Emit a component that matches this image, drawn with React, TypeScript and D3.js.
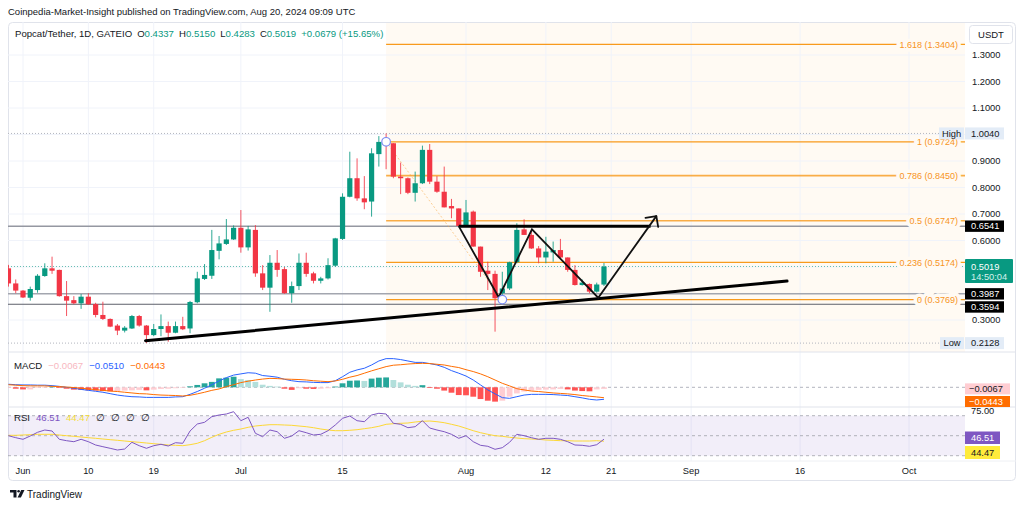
import * as d3 from "d3";

const FONT = "'Liberation Sans', Arial, sans-serif";
const GREEN = "#089981";
const RED = "#f23645";
const TEXT = "#131722";

// daily candles, 30 May – 20 Aug 2024
const firstDay = new Date(Date.UTC(2024, 4, 30));

const opens = [
  0.495, 0.438, 0.411, 0.384, 0.413, 0.466, 0.495, 0.489, 0.39, 0.375, 0.363, 0.388, 0.36, 0.319, 0.304,
  0.279, 0.26, 0.268, 0.315, 0.279, 0.243, 0.266, 0.277, 0.252, 0.277, 0.268, 0.367, 0.455, 0.467, 0.561,
  0.587, 0.604, 0.648, 0.574, 0.64, 0.476, 0.422, 0.516, 0.492, 0.401, 0.428, 0.516, 0.476, 0.448, 0.457,
  0.505, 0.606, 0.765, 0.835, 0.759, 0.747, 0.926, 0.972, 0.967, 0.841, 0.835, 0.78, 0.816, 0.942, 0.822,
  0.784, 0.73, 0.721, 0.655, 0.709, 0.577, 0.486, 0.474, 0.401, 0.419, 0.518, 0.642, 0.621, 0.57, 0.536,
  0.555, 0.564, 0.536, 0.489, 0.432, 0.436, 0.407, 0.4337,
];
const highs = [
  0.508, 0.453, 0.413, 0.426, 0.473, 0.514, 0.539, 0.49, 0.447, 0.39, 0.398, 0.401, 0.365, 0.369, 0.306,
  0.285, 0.277, 0.319, 0.319, 0.281, 0.285, 0.321, 0.294, 0.294, 0.312, 0.372, 0.482, 0.511, 0.64, 0.617,
  0.681, 0.657, 0.715, 0.655, 0.658, 0.507, 0.545, 0.564, 0.5, 0.445, 0.551, 0.554, 0.482, 0.463, 0.533,
  0.61, 0.778, 0.935, 0.91, 0.843, 0.948, 0.994, 1.004, 0.967, 0.894, 0.838, 0.86, 0.958, 0.964, 0.843,
  0.879, 0.757, 0.721, 0.753, 0.713, 0.577, 0.52, 0.486, 0.482, 0.52, 0.665, 0.68, 0.64, 0.579, 0.614,
  0.596, 0.606, 0.536, 0.507, 0.453, 0.438, 0.441, 0.515,
];
const lows = [
  0.426, 0.401, 0.383, 0.373, 0.403, 0.463, 0.474, 0.388, 0.315, 0.36, 0.342, 0.357, 0.31, 0.3, 0.273,
  0.243, 0.253, 0.266, 0.275, 0.2128, 0.239, 0.239, 0.218, 0.25, 0.262, 0.25, 0.363, 0.451, 0.455, 0.529,
  0.583, 0.602, 0.554, 0.562, 0.463, 0.413, 0.331, 0.463, 0.399, 0.365, 0.413, 0.463, 0.438, 0.438, 0.453,
  0.501, 0.602, 0.763, 0.75, 0.718, 0.69, 0.879, 0.869, 0.835, 0.775, 0.775, 0.747, 0.813, 0.813, 0.78,
  0.725, 0.684, 0.655, 0.652, 0.577, 0.463, 0.413, 0.256, 0.377, 0.413, 0.514, 0.621, 0.568, 0.514, 0.514,
  0.52, 0.533, 0.482, 0.43, 0.43, 0.401, 0.403, 0.4283,
];
const closes = [
  0.438, 0.411, 0.385, 0.417, 0.467, 0.495, 0.486, 0.39, 0.373, 0.363, 0.388, 0.359, 0.319, 0.304, 0.275,
  0.26, 0.271, 0.315, 0.279, 0.243, 0.266, 0.277, 0.252, 0.277, 0.265, 0.368, 0.457, 0.47, 0.564, 0.589,
  0.604, 0.648, 0.574, 0.642, 0.476, 0.422, 0.516, 0.489, 0.401, 0.428, 0.516, 0.474, 0.448, 0.457, 0.507,
  0.608, 0.765, 0.835, 0.759, 0.744, 0.929, 0.972, 0.964, 0.841, 0.835, 0.78, 0.816, 0.942, 0.822, 0.784,
  0.725, 0.721, 0.655, 0.706, 0.577, 0.482, 0.474, 0.382, 0.419, 0.518, 0.64, 0.621, 0.57, 0.536, 0.558,
  0.564, 0.536, 0.489, 0.432, 0.441, 0.407, 0.434, 0.5019,
];

// MACD (12, 26, 9)
const macdLine = [
  0.013, 0.011, 0.01, 0.01, 0.009, 0.009, 0.007, 0.004, 0, -0.004, -0.009, -0.013, -0.017, -0.021, -0.027,
  -0.033, -0.037, -0.04, -0.041, -0.043, -0.043, -0.043, -0.043, -0.041, -0.04, -0.03, -0.018, -0.004, 0.011,
  0.027, 0.041, 0.052, 0.057, 0.062, 0.06, 0.05, 0.047, 0.043, 0.034, 0.028, 0.024, 0.023, 0.021, 0.02,
  0.02, 0.028, 0.045, 0.064, 0.074, 0.081, 0.095, 0.112, 0.122, 0.122, 0.118, 0.112, 0.106,
  0.106, 0.101, 0.095, 0.085, 0.071, 0.06, 0.048, 0.031, 0.01, -0.011, -0.028, -0.044, -0.047, -0.04, -0.033,
  -0.03, -0.03, -0.03, -0.031, -0.033, -0.035, -0.04, -0.045, -0.051, -0.054, -0.051,
];
const signalLine = [
  0.011, 0.009, 0.007, 0.006, 0.006, 0.006, 0.004, 0.003, 0.001, -0.001, -0.004, -0.007, -0.01, -0.013, -0.016,
  -0.018, -0.021, -0.024, -0.027, -0.028, -0.031, -0.033, -0.034, -0.035, -0.037, -0.034, -0.028, -0.021, -0.013,
  -0.007, 0.003, 0.011, 0.02, 0.026, 0.031, 0.035, 0.038, 0.037, 0.035, 0.034, 0.033, 0.031, 0.028, 0.026,
  0.024, 0.027, 0.034, 0.043, 0.05, 0.06, 0.07, 0.079, 0.088, 0.094, 0.096, 0.099, 0.101,
  0.102, 0.101, 0.098, 0.095, 0.089, 0.084, 0.075, 0.067, 0.057, 0.045, 0.031, 0.017, 0.006, -0.006, -0.011,
  -0.016, -0.018, -0.021, -0.024, -0.026, -0.028, -0.031, -0.035, -0.038, -0.041, -0.0443,
];
const histogram = [
  -0.003, -0.006, -0.009, -0.009, -0.003, -0.001, 0.003, -0.003, -0.006, -0.01, -0.011, -0.013, -0.014, -0.016, -0.017,
  -0.017, -0.014, -0.013, -0.011, -0.013, -0.01, -0.007, -0.006, -0.004, -0.001, 0.004, 0.01, 0.017, 0.023,
  0.038, 0.041, 0.045, 0.035, 0.031, 0.023, 0.011, 0.006, 0.003, -0.006, -0.011, -0.004, -0.006, -0.007, -0.006,
  -0.004, 0.003, 0.017, 0.028, 0.029, 0.027, 0.037, 0.041, 0.042, 0.031, 0.021, 0.011, 0.006,
  0.009, -0.003, -0.006, -0.014, -0.023, -0.033, -0.034, -0.04, -0.05, -0.057, -0.061, -0.057, -0.04, -0.026, -0.018,
  -0.014, -0.011, -0.01, -0.009, -0.007, -0.009, -0.014, -0.016, -0.017, -0.009, -0.0067,
];

// RSI (14) and its moving average
const rsi = [
  50.0, 48.0, 46.4, 49.7, 53.4, 55.7, 54.7, 46.4, 45.0, 44.0, 46.4, 44.0, 40.7, 39.0, 37.4, 35.7, 36.7, 43.4,
  40.0, 37.4, 40.0, 41.4, 39.7, 43.0, 42.4, 54.7, 61.7, 63.4, 69.0,
  70.7, 71.7, 74.0, 65.0, 68.4, 52.4, 49.0, 55.7, 54.0, 47.4, 49.7, 55.0, 53.0, 50.7, 51.4, 55.0, 60.7, 67.4,
  69.7, 65.0, 64.0, 70.7, 72.4, 71.7, 62.4, 61.4, 58.0, 59.0,
  65.0, 57.7, 55.7, 54.0, 51.4, 47.4, 50.0, 44.0, 40.4, 39.4, 36.4, 38.0, 43.4, 51.4, 50.0, 48.0, 46.4, 47.4,
  47.4, 46.4, 44.0, 40.7, 40.4, 39.4, 41.0, 46.51,
];
const rsiMa = [
  50.4, 50.4, 50.7, 51.0, 51.4, 51.4, 51.4, 50.7, 50.0, 49.4, 48.7, 48.0, 47.4, 46.7, 46.0, 45.4, 44.7, 44.0,
  43.4, 42.7, 42.0, 41.4, 40.7, 40.4, 40.0, 41.0, 42.4, 45.0, 48.4,
  51.4, 53.7, 55.4, 56.7, 58.4, 59.7, 60.4, 61.0, 61.0, 60.7, 60.4, 59.7, 59.0, 58.0, 56.7, 55.7, 55.0, 55.0,
  55.4, 56.0, 57.0, 58.0, 59.4, 61.4, 62.0, 62.4, 62.7, 63.7,
  64.4, 64.7, 64.0, 63.0, 61.4, 59.7, 57.4, 55.0, 53.0, 51.4, 50.0, 49.4, 48.4, 47.7, 47.0, 46.7, 46.4, 45.7,
  45.4, 45.0, 45.0, 44.7, 44.7, 44.7, 45.0, 44.47,
];

const timeTicks = ["2024-06-01", "2024-06-10", "2024-06-19", "2024-07-01", "2024-07-15", "2024-08-01", "2024-08-12", "2024-08-21", "2024-09-01", "2024-09-16", "2024-10-01"];
const timeLabels = ["Jun", "10", "19", "Jul", "15", "Aug", "12", "21", "Sep", "16", "Oct"];
const priceLabels = [1.3, 1.2, 1.1, 0.9, 0.8, 0.7, 0.6, 0.3];

// fib retracement drawn from the Jul 21 high to the Aug 6 low
const fibLevels = [0, 0.236, 0.5, 0.786, 1, 1.618];
const fibPrices = [0.3769, 0.5174, 0.6747, 0.845, 0.9724, 1.3404];
const fibFrom = "2024-07-21";
const fibTo = "2024-08-06";

const levelPrices = [0.6541, 0.3987, 0.3594];
const highPrice = 1.004;
const lowPrice = 0.2128;

const trendLine: [string, number][] = [["2024-06-17T21:00Z", 0.222], ["2024-09-14T05:00Z", 0.447]];
const neckLine: [string, number][] = [["2024-07-31T00:00Z", 0.6541], ["2024-08-26T10:00Z", 0.6541]];
const zigzag: [string, number][] = [
  ["2024-07-31T00:00Z", 0.6541],
  ["2024-08-05T12:00Z", 0.386],
  ["2024-08-10T02:00Z", 0.642],
  ["2024-08-19T05:00Z", 0.384],
  ["2024-08-27T05:00Z", 0.692],
];

const dates = opens.map((_, i) => d3.utcDay.offset(firstDay, i));
const last = opens.length - 1;

const L = 8;
const PR = 965;
const R = 1016;
const MAIN_TOP = 22;
const MAIN_BOT = 352;
const MACD_BOT = 407;
const RSI_BOT = 461;
const BOT = 481;

const x = d3.scaleUtc().domain([new Date("2024-06-01"), new Date("2024-08-01")]).range([23, 466]);
const y = d3.scaleLinear().domain([0.3, 1.3]).range([320, 55]);
const ym = d3.scaleLinear().domain([0, 0.1]).range([387.3, 363.8]);
const yr = d3.scaleLinear().domain([30, 70]).range([455.7, 415.7]);

const f4 = d3.format(".4f");

function histColor(i: number) {
  const h = histogram[i];
  const p = i > 0 ? histogram[i - 1] : h;
  if (h >= 0) return h >= p ? "#26a69a" : "#b2dfdb";
  return h < p ? "#ff5252" : "#ffcdd2";
}

function ptLine(pts: [string, number][]) {
  return d3.line<[string, number]>().x((d) => x(new Date(d[0]))).y((d) => y(d[1]))(pts) ?? "";
}

export default function App() {
  const idx = d3.range(opens.length);
  const lineMacd = d3.line<number>().x((i) => x(dates[i])).y((i) => ym(macdLine[i]))(idx) ?? "";
  const lineSig = d3.line<number>().x((i) => x(dates[i])).y((i) => ym(signalLine[i]))(idx) ?? "";
  const lineRsi = d3.line<number>().x((i) => x(dates[i])).y((i) => yr(rsi[i]))(idx) ?? "";
  const lineRsiMa = d3.line<number>().x((i) => x(dates[i])).y((i) => yr(rsiMa[i]))(idx) ?? "";

  const fx0 = x(new Date(fibFrom));
  const fx1 = x(new Date(fibTo));
  const fibHigh = fibPrices[4];
  const fibLow = fibPrices[0];

  // arrow head at the end of the zigzag
  const tip = zigzag[zigzag.length - 1];
  const prev = zigzag[zigzag.length - 2];
  const tx = x(new Date(tip[0]));
  const ty = y(tip[1]);
  const ang = Math.atan2(y(prev[1]) - ty, x(new Date(prev[0])) - tx);
  const head = [ang + Math.PI / 4, ang - Math.PI / 4].map((a) => [tx + 11 * Math.cos(a), ty + 11 * Math.sin(a)]);

  const change = closes[last] - closes[last - 1];
  const pct = (change / closes[last - 1]) * 100;

  const levelStyle = [
    { stroke: "#9598a1", w: 1.5 },
    { stroke: "#a3a6af", w: 1.5 },
    { stroke: "#5d606b", w: 1 },
  ];
  const levelBoxY = [y(levelPrices[0]), y(levelPrices[1]), y(levelPrices[2]) + 2.7];

  return (
    <div style={{ position: "absolute", left: 0, top: 0 }}>
      <svg width={1024} height={509} style={{ display: "block", background: "#fff", fontFamily: FONT }}>
        <defs>
          <clipPath id="main">
            <rect x={L} y={MAIN_TOP} width={PR - L} height={MAIN_BOT - MAIN_TOP} />
          </clipPath>
          <clipPath id="lower">
            <rect x={L} y={MAIN_BOT} width={PR - L} height={RSI_BOT - MAIN_BOT} />
          </clipPath>
        </defs>

        <text x={8} y={15} fontSize={9.5} fill={TEXT}>
          Coinpedia-Market-Insight published on TradingView.com, Aug 20, 2024 09:09 UTC
        </text>

        <rect x={L + 0.5} y={MAIN_TOP + 0.5} width={R - L - 1} height={BOT - MAIN_TOP - 1} rx={4} fill="#fff" stroke="#e0e3eb" />

        {/* fib background */}
        <rect x={fx0} y={MAIN_TOP + 1} width={PR - fx0} height={MAIN_BOT - MAIN_TOP - 1} fill="#fffaf3" />

        {/* grid */}
        {y.ticks(10).map((p) => (
          <line key={p} x1={L} x2={PR} y1={y(p)} y2={y(p)} stroke="#f0f3fa" />
        ))}
        {timeTicks.map((t) => (
          <line key={t} x1={x(new Date(t))} x2={x(new Date(t))} y1={MAIN_TOP} y2={RSI_BOT} stroke="#f0f3fa" />
        ))}

        <g clipPath="url(#main)">
          {/* high / low / last price markers */}
          <line x1={L} x2={PR} y1={y(highPrice)} y2={y(highPrice)} stroke="#b2b5be" strokeDasharray="1 2" />
          <line x1={L} x2={PR} y1={y(lowPrice)} y2={y(lowPrice)} stroke="#b2b5be" strokeDasharray="1 2" />
          <line x1={L} x2={PR} y1={y(closes[last])} y2={y(closes[last])} stroke={GREEN} strokeOpacity={0.6} strokeDasharray="1 2" />

          {levelPrices.map((p, i) => (
            <line key={p} x1={L} x2={PR} y1={y(p)} y2={y(p)} stroke={levelStyle[i].stroke} strokeWidth={levelStyle[i].w} />
          ))}

          {/* fib levels */}
          <line x1={fx0} y1={y(fibHigh)} x2={fx1} y2={y(fibLow)} stroke="#f7a33a" strokeOpacity={0.5} strokeDasharray="2 2" />
          {fibLevels.map((l, i) => (
            <g key={l}>
              <line x1={fx0} x2={PR} y1={y(fibPrices[i])} y2={y(fibPrices[i])} stroke="#f89a1c" strokeWidth={l === 0.5 || l === 0.786 ? 1.6 : 1.2} strokeOpacity={l === 0.5 || l === 0.786 ? 0.8 : 1} />
              <text
                x={958}
                y={y(fibPrices[i]) + 3.3}
                fontSize={9}
                textAnchor="end"
                fill="#f7941d"
                stroke="#fffaf3"
                strokeWidth={7}
                style={{ paintOrder: "stroke" }}
              >
                {`${l} (${f4(fibPrices[i])})`}
              </text>
            </g>
          ))}

          {/* candles */}
          {dates.map((d, i) => {
            const cx = x(d);
            const col = closes[i] >= opens[i] ? GREEN : RED;
            const top = y(Math.max(opens[i], closes[i]));
            const bot = y(Math.min(opens[i], closes[i]));
            return (
              <g key={i}>
                <line x1={cx} x2={cx} y1={y(highs[i])} y2={y(lows[i])} stroke={col} strokeOpacity={0.85} />
                <rect x={cx - 2.6} y={top} width={5.2} height={Math.max(1, bot - top)} fill={col} />
              </g>
            );
          })}

          {/* drawings */}
          <path d={ptLine(trendLine)} stroke="#000" strokeWidth={3} fill="none" strokeLinecap="round" />
          <path d={ptLine(neckLine)} stroke="#000" strokeWidth={3} fill="none" />
          <path d={ptLine(zigzag)} stroke="#111" strokeWidth={1.8} fill="none" strokeLinejoin="miter" />
          {head.map(([hx, hy], i) => (
            <line key={i} x1={tx} y1={ty} x2={hx} y2={hy} stroke="#111" strokeWidth={1.8} strokeLinecap="round" />
          ))}
          <circle cx={fx0} cy={y(fibHigh)} r={4.3} fill="#fff" stroke="#7b8cf3" strokeWidth={1.2} />
          <circle cx={fx1} cy={y(fibLow)} r={4.3} fill="#fff" stroke="#7b8cf3" strokeWidth={1.2} />
        </g>

        {/* legend */}
        <text x={15} y={37} fontSize={9.6} fill={TEXT}>
          <tspan>Popcat/Tether, 1D, GATEIO</tspan>
          <tspan dx={5}>O</tspan>
          <tspan fill={GREEN}>{f4(opens[last])}</tspan>
          <tspan dx={5}>H</tspan>
          <tspan fill={GREEN}>{f4(highs[last])}</tspan>
          <tspan dx={5}>L</tspan>
          <tspan fill={GREEN}>{f4(lows[last])}</tspan>
          <tspan dx={5}>C</tspan>
          <tspan fill={GREEN}>{f4(closes[last])}</tspan>
          <tspan dx={5} fill={GREEN}>{`+${f4(change)} (+${pct.toFixed(2)}%)`}</tspan>
        </text>

        {/* price axis */}
        <rect x={969.5} y={25.5} width={43} height={18} rx={3} fill="#fff" stroke="#e0e3eb" />
        <text x={991} y={37.5} fontSize={9.5} textAnchor="middle" fill={TEXT}>USDT</text>
        {priceLabels.map((p) => (
          <text key={p} x={972} y={y(p) + 3.3} fontSize={9.3} fill={TEXT}>{f4(p)}</text>
        ))}

        <rect x={939} y={y(highPrice) - 6} width={25} height={12} fill="#e3ecf7" />
        <text x={951.5} y={y(highPrice) + 3.3} fontSize={9.3} textAnchor="middle" fill={TEXT}>High</text>
        <rect x={965} y={y(highPrice) - 6} width={39} height={12} fill="#e3ecf7" />
        <text x={971} y={y(highPrice) + 3.3} fontSize={9.3} fill={TEXT}>{f4(highPrice)}</text>

        <rect x={940} y={y(lowPrice) - 6} width={24} height={12} fill="#e3ecf7" />
        <text x={952} y={y(lowPrice) + 3.3} fontSize={9.3} textAnchor="middle" fill={TEXT}>Low</text>
        <rect x={965} y={y(lowPrice) - 6} width={39} height={12} fill="#e3ecf7" />
        <text x={971} y={y(lowPrice) + 3.3} fontSize={9.3} fill={TEXT}>{f4(lowPrice)}</text>

        {levelPrices.map((p, i) => (
          <g key={p}>
            <rect x={965} y={levelBoxY[i] - 5.7} width={39} height={11.4} fill="#000" />
            <text x={971} y={levelBoxY[i] + 3.3} fontSize={9.3} fill="#fff">{f4(p)}</text>
          </g>
        ))}

        <rect x={965} y={y(closes[last]) - 7.5} width={48} height={24} rx={1} fill={GREEN} />
        <text x={971} y={y(closes[last]) + 3.6} fontSize={9.3} fill="#fff">{f4(closes[last])}</text>
        <text x={971} y={y(closes[last]) + 14} fontSize={9.3} fill="#d6f0ec">14:50:04</text>

        {/* pane separators */}
        <line x1={L} x2={R} y1={MAIN_BOT} y2={MAIN_BOT} stroke="#e0e3eb" />
        <line x1={L} x2={R} y1={MACD_BOT} y2={MACD_BOT} stroke="#e0e3eb" />
        <line x1={L} x2={R} y1={RSI_BOT} y2={RSI_BOT} stroke="#eef0f4" />

        {/* MACD pane */}
        <g clipPath="url(#lower)">
          <line x1={L} x2={PR} y1={ym(0)} y2={ym(0)} stroke="#b2b5be" strokeDasharray="3 3" />
          {dates.map((d, i) => {
            const h = histogram[i];
            return (
              <rect
                key={i}
                x={x(d) - 2.9}
                y={Math.min(ym(h), ym(0))}
                width={5.8}
                height={Math.max(0.6, Math.abs(ym(h) - ym(0)))}
                fill={histColor(i)}
              />
            );
          })}
          <path d={lineMacd} stroke="#2962ff" strokeWidth={1} fill="none" />
          <path d={lineSig} stroke="#ff6d00" strokeWidth={1} fill="none" />

          {/* RSI pane */}
          <rect x={L} y={yr(70)} width={PR - L} height={yr(30) - yr(70)} fill="#7e57c2" fillOpacity={0.1} />
          {[70, 50, 30].map((v) => (
            <line key={v} x1={L} x2={PR} y1={yr(v)} y2={yr(v)} stroke="#9598a1" strokeOpacity={0.7} strokeDasharray="3 3" />
          ))}
          <path d={lineRsiMa} stroke="#fdd835" strokeWidth={1} fill="none" />
          <path d={lineRsi} stroke="#7e57c2" strokeWidth={1} fill="none" />
        </g>

        <text x={14} y={369} fontSize={9.6} fill={TEXT}>
          <tspan>MACD</tspan>
          <tspan dx={6} fill="#f8b8bf">{f4(histogram[last])}</tspan>
          <tspan dx={6} fill="#2962ff">{f4(macdLine[last])}</tspan>
          <tspan dx={6} fill="#ff6d00">{f4(signalLine[last])}</tspan>
        </text>
        <text x={14} y={421} fontSize={9.6} fill={TEXT}>
          <tspan>RSI</tspan>
          <tspan dx={6} fill="#7e57c2">{rsi[last].toFixed(2)}</tspan>
          <tspan dx={6} fill="#f5dc3c">{rsiMa[last].toFixed(2)}</tspan>
          <tspan dx={6}>∅</tspan>
          <tspan dx={6}>∅</tspan>
          <tspan dx={6}>∅</tspan>
          <tspan dx={6}>∅</tspan>
        </text>

        <rect x={965} y={ym(histogram[last]) - 5.5} width={45} height={11} fill="#ffcdd2" />
        <text x={969} y={ym(histogram[last]) + 3.3} fontSize={9.3} fill={TEXT}>{f4(histogram[last])}</text>
        <rect x={965} y={396} width={45} height={MACD_BOT - 396} fill="#ff6d00" />
        <text x={969} y={404.5} fontSize={9.3} fill="#fff">{f4(signalLine[last])}</text>

        <text x={971} y={414} fontSize={9.3} fill={TEXT}>75.00</text>
        <rect x={965} y={431.5} width={35} height={12.5} fill="#7e57c2" />
        <text x={971} y={441} fontSize={9.3} fill="#fff">{rsi[last].toFixed(2)}</text>
        <rect x={965} y={446} width={35} height={13} fill="#ffeb3b" />
        <text x={971} y={455.5} fontSize={9.3} fill={TEXT}>{rsiMa[last].toFixed(2)}</text>

        {/* time axis */}
        {timeTicks.map((t, i) => (
          <text key={t} x={x(new Date(t))} y={474} fontSize={9.3} textAnchor="middle" fill={TEXT}>
            {timeLabels[i]}
          </text>
        ))}

        {/* footer */}
        <g fill="#131722">
          <path d="M10 490 h6.5 v7.5 h-3 v-5 h-3.5 z" />
          <circle cx={18.6} cy={491.3} r={1.3} />
          <path d="M21.2 490 h3.3 l-3.6 7.5 h-3.3 z" />
        </g>
        <text x={27} y={497.5} fontSize={10} fill={TEXT}>TradingView</text>
      </svg>
    </div>
  );
}
